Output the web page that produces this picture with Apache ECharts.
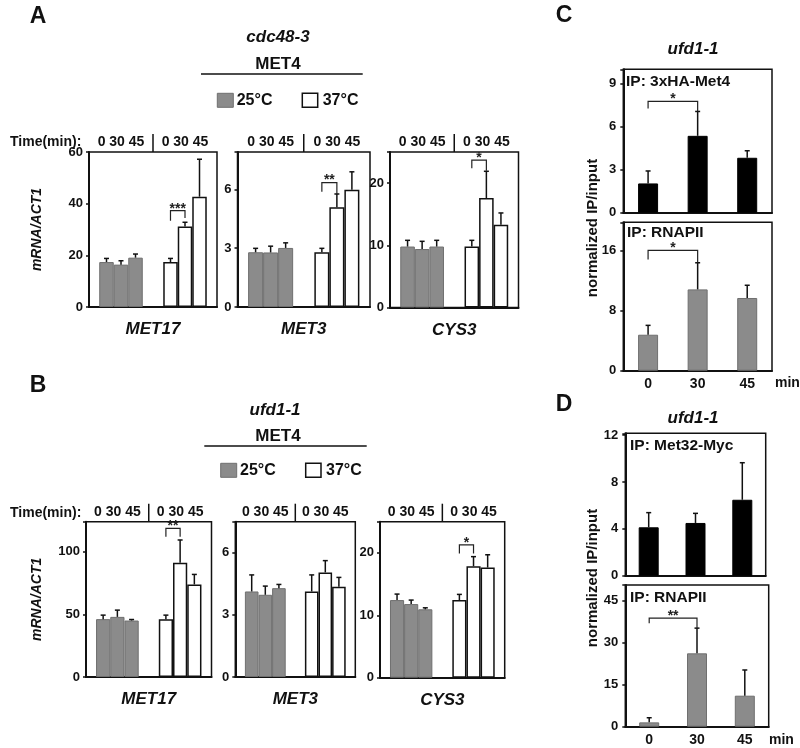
<!DOCTYPE html>
<html>
<head>
<meta charset="utf-8">
<script src="https://cdn.jsdelivr.net/npm/echarts@6/dist/echarts.min.js"></script>
<style>
  html, body { margin: 0; padding: 0; background: #fff; }
  #c { width: 800px; height: 748px; }
</style>
</head>
<body>
<div id="c"></div>
<script>
/* Multi-panel bar figure (A/B: MET4 target mRNA, C/D: ChIP), drawn with ECharts grids. */
var FONT = '"Liberation Sans", Arial, Helvetica, sans-serif';
var INK = '#111';

var temps = ['25°C', '37°C'];
var timeLabels = ['0', '30', '45'];
var genes = ['MET17', 'MET3', 'CYS3'];

// A, cdc48-3: per gene [25°C 0/30/45 min, 37°C 0/30/45 min]
var cdcMean = [
  [17.4, 16.4, 19.1, 17.4, 31.2, 42.7],
  [2.79, 2.78, 3.01, 2.79, 5.08, 5.98],
  [9.8, 9.4, 9.8, 9.8, 17.6, 13.3]
];
var cdcErr = [
  [1.4, 1.5, 1.4, 1.4, 1.6, 14.5],
  [0.2, 0.32, 0.26, 0.2, 0.68, 0.91],
  [1.0, 1.24, 1.0, 1.0, 4.3, 1.9]
];
var cdcMax = [60, 7.9, 25];
var cdcStep = [20, 3, 10];

// B, ufd1-1
var ufdMean = [
  [46.2, 48, 45.1, 46.2, 91.2, 73.9],
  [4.13, 3.97, 4.29, 4.13, 5.05, 4.36],
  [12.44, 11.8, 10.96, 12.44, 17.86, 17.65]
];
var ufdErr = [
  [3.2, 5.4, 0.8, 3.2, 18.2, 8.0],
  [0.8, 0.42, 0.18, 0.8, 0.57, 0.45],
  [0.96, 0.64, 0.24, 0.91, 1.54, 2.05]
];
var ufdMax = [124, 7.5, 25];
var ufdStep = [50, 3, 10];

// significance brackets: gene, from/to time index in the 37°C group, bracket top, leg ends
var cdcSig = [
  { gene: 0, from: 0, to: 1, top: 37.3, left: 33.4, right: 34.5, mark: '***' },
  { gene: 1, from: 0, to: 1, top: 6.34, left: 5.87, right: 5.76, mark: '**' },
  { gene: 2, from: 0, to: 1, top: 23.7, left: 22.4, right: 22.0, mark: '*' }
];
var ufdSig = [
  { gene: 0, from: 0, to: 1, top: 118.7, left: 112, right: 112, mark: '**' },
  { gene: 2, from: 0, to: 1, top: 21.3, left: 19.9, right: 19.9, mark: '*' }
];

// C / D, ufd1-1 ChIP, normalized IP/input at 0/30/45 min
var chipTimes = ['0', '30', '45'];
var met4Mean = [2.04, 5.36, 3.83];
var met4Err = [0.87, 1.7, 0.49];
var polCMean = [4.8, 10.85, 9.7];
var polCErr = [1.25, 3.55, 1.7];
var met32Mean = [4.13, 4.5, 6.48];
var met32Err = [1.25, 0.82, 3.16];
var polDMean = [1.55, 26.2, 11.07];
var polDErr = [1.65, 9.0, 9.18];
var chipMax = [10, 19.8, 12.15, 50.6];
var chipStep = [3, 8, 4, 15];
var chipSig = [
  { chart: 0, from: 0, to: 1, top: 7.76, left: 7.27, right: 7.06, mark: '*' },
  { chart: 1, from: 0, to: 1, top: 16.05, left: 14.85, right: 14.4, mark: '*' },
  { chart: 3, from: 0, to: 1, top: 38.8, left: 36.9, right: 35.2, mark: '**' }
];

var GAP = 0.32;
var GRAY = { color: '#8b8b8b', borderColor: '#6f6f6f', borderWidth: 1 };
var WHITE = { color: '#ffffff', borderColor: INK, borderWidth: 1.5 };
var BLACKBAR = { color: '#000000', borderColor: '#000000', borderWidth: 1 };

var grids = [], xAxes = [], yAxes = [], series = [], graphics = [];

function tickFmt(step) {
  return function (v) {
    var r = v / step;
    return Math.abs(r - Math.round(r)) < 1e-6 ? String(Math.round(v)) : '';
  };
}

function txt(s, x, y, size, o) {
  o = o || {};
  graphics.push({
    type: 'text', x: x, y: y, rotation: o.rot || 0, silent: true,
    style: {
      text: s, fill: INK, fontFamily: FONT, fontSize: size,
      fontWeight: 'bold', fontStyle: o.italic ? 'italic' : 'normal',
      align: o.align || 'center', verticalAlign: 'middle',
      textAlign: o.align || 'center', textVerticalAlign: 'middle'
    }
  });
}
function line(x1, y1, x2, y2, w) {
  graphics.push({ type: 'line', silent: true, shape: { x1: x1, y1: y1, x2: x2, y2: y2 },
    style: { stroke: INK, lineWidth: w || 1.5 } });
}
function rect(x, y, w, h, st) {
  graphics.push({ type: 'rect', silent: true, shape: { x: x, y: y, width: w, height: h },
    style: { fill: st.color, stroke: st.borderColor, lineWidth: st.borderWidth } });
}

function errRender(n) {
  return function (params, api) {
    var c = api.value(0), t = api.value(1), m = api.value(2), e = api.value(3);
    var bw = api.size([1, 0])[0] * (1 - GAP) / n;
    var x = api.coord([c, 0])[0] + (t - (n - 1) / 2) * bw;
    var y0 = api.coord([c, m])[1], y1 = api.coord([c, m + e])[1];
    var st = { stroke: INK, lineWidth: 1.5 };
    return { type: 'group', children: [
      { type: 'line', shape: { x1: x, y1: y0, x2: x, y2: y1 }, style: st },
      { type: 'line', shape: { x1: x - 2.5, y1: y1, x2: x + 2.5, y2: y1 }, style: st }
    ] };
  };
}

function sigRender(n, marks) {
  return function (params, api) {
    var bw = api.size([1, 0])[0] * (1 - GAP) / n;
    function xAt(c, t) { return api.coord([c, 0])[0] + (t - (n - 1) / 2) * bw; }
    var x1 = xAt(api.value(0), api.value(1)), x2 = xAt(api.value(2), api.value(3));
    var yt = api.coord([0, api.value(4)])[1];
    var yl = api.coord([0, api.value(5)])[1];
    var yr = api.coord([0, api.value(6)])[1];
    return { type: 'group', children: [
      { type: 'polyline', shape: { points: [[x1, yl], [x1, yt], [x2, yt], [x2, yr]] },
        style: { stroke: '#222', lineWidth: 1.2, fill: null } },
      { type: 'text', x: (x1 + x2) / 2, y: yt - 2,
        style: { text: marks[params.dataIndex], fill: '#222', fontFamily: FONT, fontSize: 14,
          fontWeight: 'bold', align: 'center', verticalAlign: 'middle',
          textAlign: 'center', textVerticalAlign: 'middle' } }
    ] };
  };
}

function addGrid(box) {
  grids.push({ left: box[0], top: box[1], width: box[2], height: box[3], show: true,
    borderColor: INK, borderWidth: 1.5, backgroundColor: 'transparent', outerBoundsMode: 'none' });
  return grids.length - 1;
}

function yAxisCfg(idx, max, step, name, nameGap, margin) {
  return {
    gridIndex: idx, type: 'value', min: 0, max: max, interval: step,
    axisLine: { show: true, lineStyle: { color: INK, width: 2 } },
    axisTick: { show: true, length: 3, lineStyle: { color: INK, width: 1.5 } },
    splitLine: { show: false },
    axisLabel: { formatter: tickFmt(step), margin: margin, color: INK, fontFamily: FONT,
      fontWeight: 'bold', fontSize: 13 },
    name: name || '', nameLocation: 'middle', nameGap: nameGap || 0,
    nameTextStyle: { color: INK, fontFamily: FONT, fontWeight: 'bold', fontStyle: 'italic', fontSize: 14 }
  };
}

function geneChart(box, g, mean, err, max, step, yNameGap, sigs) {
  var idx = addGrid(box);
  xAxes.push({
    gridIndex: idx, type: 'category', data: temps,
    axisLine: { lineStyle: { color: INK, width: 2 } },
    axisTick: { show: false }, axisLabel: { show: false },
    name: genes[g], nameLocation: 'middle', nameGap: 14,
    nameTextStyle: { color: INK, fontFamily: FONT, fontWeight: 'bold', fontStyle: 'italic', fontSize: 17 }
  });
  yAxes.push(yAxisCfg(idx, max, step, g === 0 ? 'mRNA/ACT1' : '', yNameGap, 6));
  var errData = [];
  for (var t = 0; t < 3; t++) {
    series.push({
      type: 'bar', xAxisIndex: idx, yAxisIndex: idx, barGap: '0%', barCategoryGap: (GAP * 100) + '%',
      silent: true,
      data: [{ value: mean[t], itemStyle: GRAY }, { value: mean[3 + t], itemStyle: WHITE }]
    });
    errData.push([0, t, mean[t], err[t]]);
    errData.push([1, t, mean[3 + t], err[3 + t]]);
  }
  series.push({ type: 'custom', xAxisIndex: idx, yAxisIndex: idx, z: 5, silent: true,
    renderItem: errRender(3), data: errData });
  var sd = [], marks = [];
  sigs.forEach(function (s) {
    if (s.gene !== g) return;
    sd.push([1, s.from, 1, s.to, s.top, s.left, s.right]);
    marks.push(s.mark);
  });
  if (sd.length) {
    series.push({ type: 'custom', xAxisIndex: idx, yAxisIndex: idx, z: 6, silent: true,
      renderItem: sigRender(3, marks), data: sd });
  }
  // time row above the box
  var yRow = box[1] - 10;
  txt('0 30 45', box[0] + box[2] * 0.25, yRow, 14);
  txt('0 30 45', box[0] + box[2] * 0.75, yRow, 14);
  line(box[0] + box[2] / 2, yRow - 8, box[0] + box[2] / 2, box[1], 1.5);
}

function chipChart(k, box, mean, err, style, showX) {
  var idx = addGrid(box);
  xAxes.push({
    gridIndex: idx, type: 'category', data: chipTimes,
    axisLine: { lineStyle: { color: INK, width: 2 } },
    axisTick: { show: false },
    axisLabel: { show: showX, margin: 6, color: INK, fontFamily: FONT, fontWeight: 'bold', fontSize: 14 }
  });
  yAxes.push(yAxisCfg(idx, chipMax[k], chipStep[k], '', 0, 7));
  series.push({
    type: 'bar', xAxisIndex: idx, yAxisIndex: idx, barWidth: 20, silent: true,
    itemStyle: style, data: mean.slice()
  });
  var errData = mean.map(function (m, i) { return [i, 0, m, err[i]]; });
  series.push({ type: 'custom', xAxisIndex: idx, yAxisIndex: idx, z: 5, silent: true,
    renderItem: errRender(1), data: errData });
  var sd = [], marks = [];
  chipSig.forEach(function (s) {
    if (s.chart !== k) return;
    sd.push([s.from, 0, s.to, 0, s.top, s.left, s.right]);
    marks.push(s.mark);
  });
  if (sd.length) {
    series.push({ type: 'custom', xAxisIndex: idx, yAxisIndex: idx, z: 6, silent: true,
      renderItem: sigRender(1, marks), data: sd });
  }
}

// ---- panel A ----
var boxesA = [[89, 152, 128, 155], [237.5, 152, 132.5, 155], [390, 152, 128.5, 155.5]];
boxesA.forEach(function (b, g) {
  geneChart(b, g, cdcMean[g], cdcErr[g], cdcMax[g], cdcStep[g], 45, cdcSig);
});
txt('A', 38, 17, 23);
txt('cdc48-3', 278, 37, 17, { italic: true });
txt('MET4', 278, 64.5, 17);
line(201, 74, 362.7, 74, 1.5);
rect(217.3, 93.3, 16, 14, GRAY);
txt('25°C', 236.7, 100.5, 16, { align: 'left' });
rect(302.3, 93.3, 15.4, 14, WHITE);
txt('37°C', 322.7, 100.5, 16, { align: 'left' });
txt('Time(min):', 10, 142.5, 14, { align: 'left' });

// ---- panel B ----
var boxesB = [[86, 521.7, 125.5, 155.3], [235.3, 521.7, 120, 155.3], [380, 521.7, 124.7, 156]];
boxesB.forEach(function (b, g) {
  geneChart(b, g, ufdMean[g], ufdErr[g], ufdMax[g], ufdStep[g], 42, ufdSig);
});
txt('B', 38, 386, 23);
txt('ufd1-1', 275, 410, 17, { italic: true });
txt('MET4', 278, 436, 17);
line(204.3, 446, 366.7, 446, 1.5);
rect(220.7, 463.3, 16, 14, GRAY);
txt('25°C', 240, 470.5, 16, { align: 'left' });
rect(305.7, 463.3, 15.3, 14, WHITE);
txt('37°C', 326, 470.5, 16, { align: 'left' });
txt('Time(min):', 10, 513, 14, { align: 'left' });

// ---- panel C ----
chipChart(0, [623.3, 69.3, 148.7, 143.4], met4Mean, met4Err, BLACKBAR, false);
chipChart(1, [623.3, 222.3, 148.7, 148.4], polCMean, polCErr, GRAY, true);
txt('C', 564, 16, 23);
txt('ufd1-1', 693, 49.5, 17, { italic: true });
txt('IP: 3xHA-Met4', 626, 82, 15.5, { align: 'left' });
txt('IP: RNAPII', 627, 232.5, 15.5, { align: 'left' });
txt('normalized IP/input', 592.5, 228, 15, { rot: Math.PI / 2 });
txt('min', 775, 383, 14, { align: 'left' });

// ---- panel D ----
chipChart(2, [625.3, 433.3, 140.4, 142.4], met32Mean, met32Err, BLACKBAR, false);
chipChart(3, [625.3, 585, 143.4, 141.7], polDMean, polDErr, GRAY, true);
txt('D', 564, 405, 23);
txt('ufd1-1', 693, 418, 17, { italic: true });
txt('IP: Met32-Myc', 630, 446, 15.5, { align: 'left' });
txt('IP: RNAPII', 630, 598, 15.5, { align: 'left' });
txt('normalized IP/input', 592.5, 578, 15, { rot: Math.PI / 2 });
txt('min', 769, 740, 14, { align: 'left' });

var chart = echarts.init(document.getElementById('c'), null, { renderer: 'canvas' });
chart.setOption({
  animation: false,
  backgroundColor: '#ffffff',
  textStyle: { fontFamily: FONT, color: INK },
  grid: grids,
  xAxis: xAxes,
  yAxis: yAxes,
  series: series,
  graphic: { elements: graphics }
});
</script>
</body>
</html>
